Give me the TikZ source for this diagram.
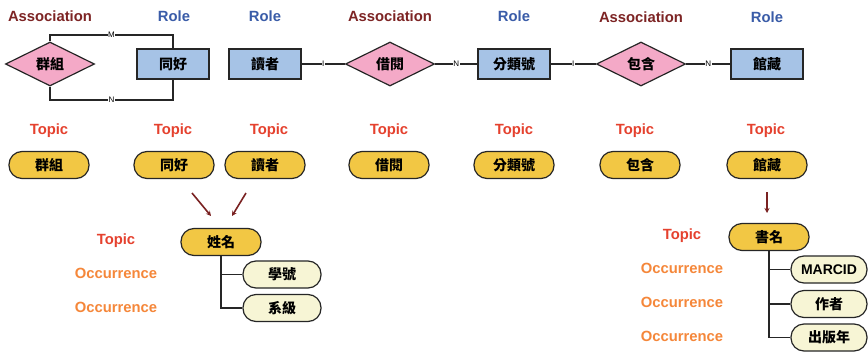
\documentclass[tikz,border=0pt]{standalone}
\usepackage{fontspec}
\setmainfont{Liberation Sans}
\newfontfamily\cjk{Noto Sans CJK TC}
\usetikzlibrary{shapes.geometric,arrows.meta}
\definecolor{assoccol}{HTML}{7D2424}
\definecolor{rolecol}{HTML}{3A5CA8}
\definecolor{topiccol}{HTML}{E5412E}
\definecolor{occcol}{HTML}{F5873A}
\definecolor{pinkfill}{HTML}{F4A9C7}
\definecolor{bluefill}{HTML}{A6C3E6}
\definecolor{yellowfill}{HTML}{F2C744}
\definecolor{creamfill}{HTML}{F7F5D5}
\definecolor{arrowcol}{HTML}{7A2222}
\tikzset{
  lbl/.style={font=\fontsize{14.8}{17}\selectfont\bfseries, inner sep=0pt},
  assoclbl/.style={lbl, text=assoccol},
  rolelbl/.style={lbl, text=rolecol},
  topiclbl/.style={lbl, text=topiccol},
  occlbl/.style={lbl, text=occcol},
  cjktext/.style={font=\cjk\fontsize{14}{16}\selectfont\bfseries},
  assocshape/.style={diamond, draw=black!85, line width=1.2pt, fill=pinkfill, minimum width=89pt, minimum height=44pt, inner sep=0pt, cjktext},
  roleshape/.style={rectangle, draw=black!85, line width=1.2pt, fill=bluefill, minimum width=72pt, minimum height=30pt, inner sep=0pt, cjktext},
  topicpill/.style={rectangle, rounded corners=13pt, draw=black!85, line width=1.2pt, fill=yellowfill, minimum width=80pt, minimum height=27pt, inner sep=0pt, cjktext},
  occpill/.style={rectangle, rounded corners=13pt, draw=black!85, line width=1.2pt, fill=creamfill, minimum width=78pt, minimum height=27pt, inner sep=0pt, cjktext},
  conn/.style={draw=black!85, line width=1.2pt},
  elabel/.style={fill=white, font=\fontsize{8}{9}\selectfont, inner sep=0.6pt},
  redarrow/.style={draw=arrowcol, line width=1.6pt, -{Stealth[length=5pt,width=5pt]}},
}
\begin{document}
\begin{tikzpicture}[x=1pt,y=-1pt]
\useasboundingbox[fill=white] (0,0) rectangle (868,351);
% top labels
\node[assoclbl] (al1) at (50,16) {Association};
\node[rolelbl] (rl1) at (174,16) {Role};
\node[rolelbl] (rl2) at (265,16) {Role};
\node[assoclbl] (al2) at (390,16) {Association};
\node[rolelbl] (rl3) at (514,16) {Role};
\node[assoclbl] (al3) at (641,17) {Association};
\node[rolelbl] (rl4) at (767,17) {Role};
% ER row
\node[assocshape] (d1) at (50,64) {群組};
\node[roleshape] (r1) at (173,64) {同好};
\node[roleshape] (r2) at (265,64) {讀者};
\node[assocshape] (d2) at (390,64) {借閱};
\node[roleshape] (r3) at (514,64) {分類號};
\node[assocshape] (d3) at (641,64) {包含};
\node[roleshape] (r4) at (767,64) {館藏};
\coordinate (m1) at (50,35);
\coordinate (m2) at (173,35);
\coordinate (n1) at (50,100);
\coordinate (n2) at (173,100);
\draw[conn] (d1.north) -- (m1) -- node[elabel]{M} (m2) -- (r1.north);
\draw[conn] (d1.south) -- (n1) -- node[elabel]{N} (n2) -- (r1.south);
\draw[conn] (r2.east) -- node[elabel]{I} (d2.west);
\draw[conn] (d2.east) -- node[elabel]{N} (r3.west);
\draw[conn] (r3.east) -- node[elabel]{I} (d3.west);
\draw[conn] (d3.east) -- node[elabel]{N} (r4.west);
% Topic labels
\node[topiclbl] (tl1) at (49,131) {Topic};
\node[topiclbl] (tl2) at (173,131) {Topic};
\node[topiclbl] (tl3) at (269,131) {Topic};
\node[topiclbl] (tl4) at (389,131) {Topic};
\node[topiclbl] (tl5) at (514,131) {Topic};
\node[topiclbl] (tl6) at (635,131) {Topic};
\node[topiclbl] (tl7) at (766,131) {Topic};
% Topic pills
\node[topicpill] (p1) at (49,165) {群組};
\node[topicpill] (p2) at (174,165) {同好};
\node[topicpill] (p3) at (265,165) {讀者};
\node[topicpill] (p4) at (389,165) {借閱};
\node[topicpill] (p5) at (514,165) {分類號};
\node[topicpill] (p6) at (640,165) {包含};
\node[topicpill] (p7) at (767,165) {館藏};
% arrows
\coordinate (a1s) at (192,193);
\coordinate (a1e) at (211,216);
\coordinate (a2s) at (246,193);
\coordinate (a2e) at (232,216);
\coordinate (a3s) at (767,192);
\coordinate (a3e) at (767,213);
\draw[redarrow] (a1s) -- (a1e);
\draw[redarrow] (a2s) -- (a2e);
\draw[redarrow] (a3s) -- (a3e);
% left tree
\node[topiclbl] (tl8) at (116,241) {Topic};
\node[occlbl] (ol1) at (116,273) {Occurrence};
\node[occlbl] (ol2) at (116,307) {Occurrence};
\node[topicpill] (p8) at (221,242) {姓名};
\node[occpill] (o1) at (282,274.5) {學號};
\node[occpill] (o2) at (282,308) {系級};
\draw[conn] (p8.south) |- (o1.west);
\draw[conn] (p8.south) |- (o2.west);
% right tree
\node[topiclbl] (tl9) at (682,236) {Topic};
\node[occlbl] (ol3) at (682,268) {Occurrence};
\node[occlbl] (ol4) at (682,302) {Occurrence};
\node[occlbl] (ol5) at (682,336) {Occurrence};
\node[topicpill] (p9) at (769,237) {書名};
\node[occpill, minimum width=76pt, font=\fontsize{14}{16}\selectfont\bfseries] (o3) at (829,269.5) {MARCID};
\node[occpill, minimum width=76pt] (o4) at (829,304) {作者};
\node[occpill, minimum width=76pt] (o5) at (829,337.5) {出版年};
\draw[conn] (p9.south) |- (o3.west);
\draw[conn] (p9.south) |- (o4.west);
\draw[conn] (p9.south) |- (o5.west);
\end{tikzpicture}
\end{document}
